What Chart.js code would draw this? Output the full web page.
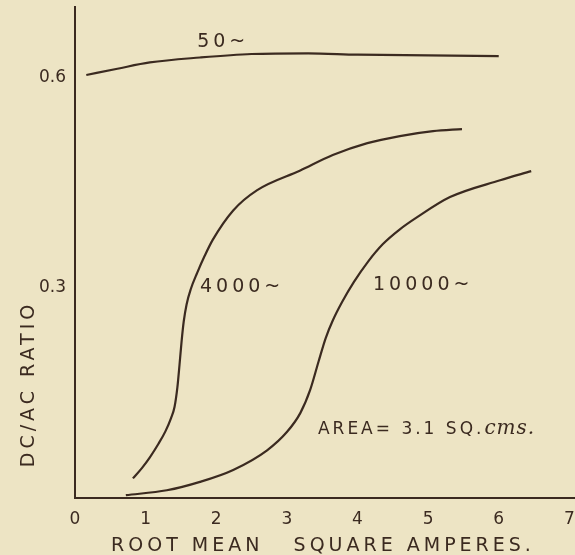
<!DOCTYPE html>
<html>
<head>
<meta charset="utf-8">
<script src="https://cdn.jsdelivr.net/npm/chart.js@4"></script>
<style>
  html, body { margin: 0; padding: 0; background: #ede4c4; }
  #wrap { width: 575px; height: 555px; }
</style>
</head>
<body>
<div id="wrap"><canvas id="myChart" width="575" height="555"></canvas></div>
<script>
// rms amperes vs dc/ac ratio
const amps50 = [0.16, 0.6, 1.06, 1.77, 2.5, 3.3, 4.0, 5.0, 6.0];
const ratio50 = [0.603, 0.612, 0.621, 0.628, 0.633, 0.634, 0.632, 0.631, 0.630];

const amps4000 = [0.82, 0.95, 1.06, 1.18, 1.28, 1.36, 1.41, 1.45, 1.48, 1.51, 1.54, 1.58, 1.64, 1.73, 1.84, 1.95, 2.24, 2.58, 3.19, 3.65, 4.14, 4.60, 5.07, 5.48];
const ratio4000 = [0.028, 0.043, 0.058, 0.077, 0.095, 0.114, 0.130, 0.158, 0.190, 0.224, 0.252, 0.276, 0.298, 0.321, 0.346, 0.368, 0.410, 0.439, 0.467, 0.489, 0.506, 0.516, 0.523, 0.526];

const amps10000 = [0.72, 1.30, 1.77, 2.24, 2.72, 3.00, 3.19, 3.33, 3.45, 3.55, 3.65, 3.78, 3.95, 4.15, 4.36, 4.60, 4.84, 5.31, 6.02, 6.46];
const ratio10000 = [0.004, 0.011, 0.023, 0.040, 0.068, 0.094, 0.121, 0.154, 0.195, 0.228, 0.253, 0.279, 0.308, 0.337, 0.362, 0.383, 0.400, 0.429, 0.453, 0.466];

const xTicks = [0, 1, 2, 3, 4, 5, 6, 7];
const yTicks = [0.3, 0.6];

const curveNames = ['50~', '4000~', '10000~'];

const ink = '#3b2a20';

function pts(xs, ys) {
  return xs.map((v, i) => ({ x: v, y: ys[i] }));
}

// hand lettering on the sheet (data units for the curve labels)
const notes = [
  { text: curveNames[0], x: 1.73, y: 0.643 },
  { text: curveNames[1], x: 1.77, y: 0.294 },
  { text: curveNames[2], x: 4.22, y: 0.297 }
];

const paperText = {
  id: 'paperText',
  afterDraw(chart) {
    const { ctx, scales: { x, y } } = chart;
    ctx.save();
    ctx.fillStyle = ink;
    ctx.textBaseline = 'alphabetic';
    ctx.textAlign = 'left';
    ctx.font = '19px "DejaVu Sans"';
    ctx.letterSpacing = '4px';
    notes.forEach(n => {
      ctx.fillText(n.text, x.getPixelForValue(n.x), y.getPixelForValue(n.y));
    });

    // area note
    ctx.font = '17px "DejaVu Sans"';
    ctx.letterSpacing = '3px';
    const ax = x.getPixelForValue(3.44), ay = y.getPixelForValue(0.091);
    const first = 'AREA= 3.1 SQ.';
    ctx.fillText(first, ax, ay);
    const w = ctx.measureText(first).width;
    ctx.font = 'italic 20px "DejaVu Serif"';
    ctx.letterSpacing = '1px';
    ctx.fillText('cms.', ax + w, ay);

    // axis titles
    ctx.font = '19px "DejaVu Sans"';
    ctx.letterSpacing = '4px';
    ctx.textAlign = 'center';
    ctx.textBaseline = 'middle';
    ctx.fillText('ROOT MEAN   SQUARE AMPERES.', 323, 546);

    ctx.translate(29, 384);
    ctx.rotate(-Math.PI / 2);
    ctx.fillText('DC/AC RATIO', 0, 0);
    ctx.restore();
  }
};

function renderChart() {
  const ctx = document.getElementById('myChart').getContext('2d');
  const line = { borderColor: ink, borderWidth: 2.2, pointRadius: 0, fill: false, cubicInterpolationMode: 'monotone' };
  new Chart(ctx, {
    type: 'line',
    data: {
      datasets: [
        Object.assign({ label: curveNames[0], data: pts(amps50, ratio50) }, line),
        Object.assign({ label: curveNames[1], data: pts(amps4000, ratio4000) }, line),
        Object.assign({ label: curveNames[2], data: pts(amps10000, ratio10000) }, line)
      ]
    },
    options: {
      responsive: false,
      animation: false,
      layout: { padding: { top: 7, right: 0, left: 0, bottom: 0 } },
      scales: {
        x: {
          type: 'linear',
          min: 0,
          max: 7.08,
          afterFit: s => { s.height = 57; s.paddingLeft = 0; s.paddingRight = 0; },
          afterBuildTicks: s => { s.ticks = xTicks.map(v => ({ value: v })); },
          grid: { display: false, drawTicks: false },
          border: { display: true, color: ink, width: 2 },
          ticks: {
            color: ink,
            padding: 11,
            maxRotation: 0,
            autoSkip: false,
            font: { family: 'DejaVu Sans', size: 17 },
            callback: v => String(v)
          }
        },
        y: {
          type: 'linear',
          min: 0,
          max: 0.70,
          afterFit: s => { s.width = 75; s.paddingTop = 0; s.paddingBottom = 0; },
          afterBuildTicks: s => { s.ticks = yTicks.map(v => ({ value: v })); },
          grid: { display: false, drawTicks: false },
          border: { display: true, color: ink, width: 2 },
          ticks: {
            color: ink,
            padding: 9,
            font: { family: 'DejaVu Sans', size: 17 },
            callback: v => v.toFixed(1)
          }
        }
      },
      plugins: {
        legend: { display: false },
        tooltip: { enabled: false }
      }
    },
    plugins: [paperText]
  });
}

renderChart();
</script>
</body>
</html>
